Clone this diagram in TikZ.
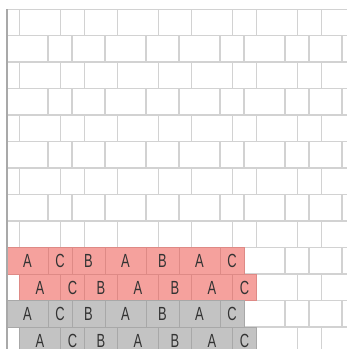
\documentclass[tikz,border=0pt]{standalone}
\usepackage{fontspec}
\newfontfamily\brickfont[FakeStretch=0.68]{Liberation Sans}
\definecolor{brickline}{HTML}{D2D2D2}
\definecolor{edgeline}{HTML}{A9A9A9}
\definecolor{redfill}{HTML}{F5A19D}
\definecolor{redline}{HTML}{DE8A86}
\definecolor{grayfill}{HTML}{C3C3C3}
\definecolor{grayline}{HTML}{A8A8A8}
\tikzset{
  brick/.style={draw=brickline, line width=1.3pt, fill=white},
  redbrick/.style={draw=redline, line width=1pt, fill=redfill},
  graybrick/.style={draw=grayline, line width=1pt, fill=grayfill},
  letter/.style={font=\brickfont\fontsize{19}{19}\selectfont, text=black!80, inner sep=0pt},
}

\begin{document}
\begin{tikzpicture}[x=1pt, y=-1pt]
    \useasboundingbox (0,0) rectangle (347,349);

    % Plain wall
    \begin{scope}
        \clip (7,9) rectangle (347,349);
        \foreach \k in {0,...,12} {
            \pgfmathsetmacro{\rowy}{9+26.5*\k}
            \pgfmathsetmacro{\shift}{12.5*(1-mod(\k,2))}
            \foreach \bx/\bw in {-17/24, 7/41, 48/24, 72/33, 105/41, 146/33, 179/41, 220/24, 244/41, 285/24, 309/33, 342/41}
                \draw[brick] (\bx+\shift, \rowy) rectangle ++(\bw, 26.5);
        }
    \end{scope}

    % Laid courses (A C B A B A C)
    \foreach \k/\sty in {9/redbrick, 10/redbrick, 11/graybrick, 12/graybrick} {
        \pgfmathsetmacro{\rowy}{9+26.5*\k}
        \pgfmathsetmacro{\shift}{12.5*(1-mod(\k,2))}
        \foreach \bx/\bw/\bl [count=\i] in {7/41/A, 48/24/C, 72/33/B, 105/41/A, 146/33/B, 179/41/A, 220/24/C} {
            \draw[\sty] (\bx+\shift, \rowy) rectangle ++(\bw, 26.5);
            \node[letter] (l\k-\i) at (\bx+\shift+\bw/2, \rowy+13.5) {\bl};
        }
    }

    % Wall edge
    \draw[edgeline, line width=1.3pt] (7,9) -- (7,349);
\end{tikzpicture}
\end{document}
